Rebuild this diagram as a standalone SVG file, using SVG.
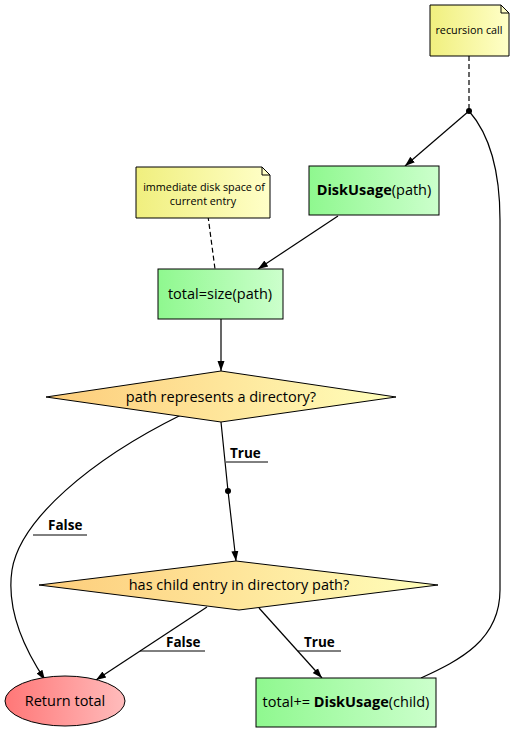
<svg xmlns="http://www.w3.org/2000/svg" width="522" height="740" viewBox="0 0 522 740">
<style>
text{font-family:"Open Sans","DejaVu Sans",sans-serif;fill:#000}
.t{font-size:14.5px;text-anchor:middle}
.n{font-size:10.8px;text-anchor:middle}
.l{font-size:13.5px;font-weight:bold}
.box{stroke:#000;stroke-width:1}
.e{fill:none;stroke:#000;stroke-width:1.2}
.d{fill:none;stroke:#000;stroke-width:1.2;stroke-dasharray:5,3}
.u{stroke:#000;stroke-width:1}
</style>
<defs>
<linearGradient id="g" x1="0" x2="1" y1="0" y2="0"><stop offset="0" stop-color="#8ff88f"/><stop offset="1" stop-color="#ccffcc"/></linearGradient>
<linearGradient id="y" x1="0" x2="1" y1="0" y2="0"><stop offset="0" stop-color="#f0ef7e"/><stop offset="1" stop-color="#ffffc8"/></linearGradient>
<linearGradient id="o" x1="0" x2="1" y1="0" y2="0"><stop offset="0" stop-color="#fdcc7a"/><stop offset="1" stop-color="#ffffbb"/></linearGradient>
<linearGradient id="r" x1="0" x2="1" y1="0" y2="0"><stop offset="0" stop-color="#f77"/><stop offset="1" stop-color="#ffbcbc"/></linearGradient>
<marker id="a" viewBox="0 0 10 10" refX="10" refY="5" markerWidth="10" markerHeight="10" markerUnits="userSpaceOnUse" orient="auto"><path d="M0,1.5 L10,5 L0,8.5 z" fill="#000"/></marker>
</defs>
<g id="connectors">
<path class="d" d="M469,56 L469,111"/>
<circle cx="469" cy="111" r="3" fill="#000"/>
<path class="e" d="M469,111 L405,166" marker-end="url(#a)"/>
<path class="e" d="M469,111 C490,135 500,170 500,220 L500,590 C500,640 460,660 421,678"/>
<path class="d" d="M208,216 L215,269"/>
<path class="e" d="M338,216 L258,269" marker-end="url(#a)"/>
<path class="e" d="M221,319 L221,371" marker-end="url(#a)"/>
<path class="e" d="M221,422 L228,491 L236,561" marker-end="url(#a)"/>
<circle cx="228" cy="491" r="3" fill="#000"/>
<text class="l" x="230" y="458">True</text>
<line class="u" x1="226" y1="462" x2="268" y2="462"/>
<path class="e" d="M181,415 C90,460 20,520 12,570 C6,610 25,650 45,680" marker-end="url(#a)"/>
<text class="l" x="48" y="530">False</text>
<line class="u" x1="33" y1="535" x2="87" y2="535"/>
<path class="e" d="M207,607 L96,680" marker-end="url(#a)"/>
<text class="l" x="166" y="647">False</text>
<line class="u" x1="140" y1="651" x2="205" y2="651"/>
<path class="e" d="M259,608 L322,678" marker-end="url(#a)"/>
<text class="l" x="304" y="647">True</text>
<line class="u" x1="298" y1="651" x2="341" y2="651"/>
</g>
<g id="note-recursion">
<path class="box" fill="url(#y)" d="M430,5 L501,5 L509,13 L509,56 L430,56 z"/>
<path class="box" fill="none" d="M501,5 L501,13 L509,13"/>
<text class="n" x="469" y="34">recursion call</text>
</g>
<g id="diskusage">
<rect class="box" x="309" y="166" width="130" height="49" fill="url(#g)"/>
<text class="t" x="374" y="195"><tspan font-weight="bold">DiskUsage</tspan>(path)</text>
</g>
<g id="note-immediate">
<path class="box" fill="url(#y)" d="M136,167 L262,167 L270,175 L270,218 L136,218 z"/>
<path class="box" fill="none" d="M262,167 L262,175 L270,175"/>
<text class="n" x="204" y="191">immediate disk space of</text>
<text class="n" x="203" y="205">current entry</text>
</g>
<g id="size">
<rect class="box" x="158" y="269" width="125" height="50" fill="url(#g)"/>
<text class="t" x="220" y="299">total=size(path)</text>
</g>
<g id="isdir">
<path class="box" fill="url(#o)" d="M221,371 L396,397 L221,422 L46,397 z"/>
<text class="t" x="221" y="402">path represents a directory?</text>
</g>
<g id="haschild">
<path class="box" fill="url(#o)" d="M236,561 L438,585 L239,610 L39,585 z"/>
<text class="t" x="239" y="590">has child entry in directory path?</text>
</g>
<g id="return">
<ellipse class="box" cx="65" cy="701" rx="60" ry="25" fill="url(#r)"/>
<text class="t" x="65" y="706">Return total</text>
</g>
<g id="accumulate">
<rect class="box" x="256" y="678" width="180" height="49" fill="url(#g)"/>
<text class="t" x="346" y="707">total+= <tspan font-weight="bold">DiskUsage</tspan>(child)</text>
</g>
</svg>
